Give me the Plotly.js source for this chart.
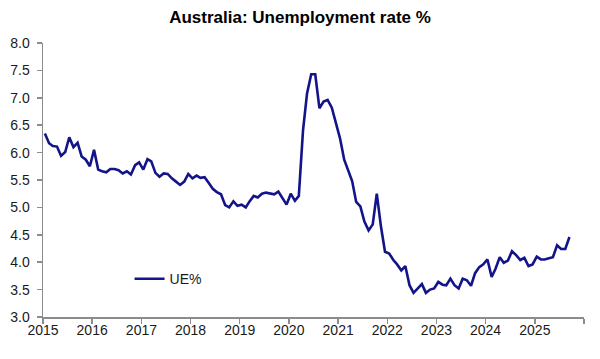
<!DOCTYPE html>
<html>
<head>
<meta charset="utf-8">
<script src="https://cdn.plot.ly/plotly-3.0.1.min.js"></script>
<style>
  html, body { margin: 0; padding: 0; background: #ffffff; }
  #chart { width: 600px; height: 359px; }
</style>
</head>
<body>
<div id="chart"></div>
<script>
// Monthly unemployment rate, Jan 2015 .. Sep 2025
var startYear = 2015;
var ue = [
  6.35, 6.17, 6.12, 6.11, 5.94, 6.01, 6.28, 6.10, 6.18, 5.93, 5.87, 5.75,
  6.05, 5.69, 5.66, 5.64, 5.70, 5.70, 5.68, 5.62, 5.66, 5.60, 5.77, 5.82,
  5.69, 5.88, 5.84, 5.63, 5.56, 5.62, 5.61, 5.53, 5.47, 5.41, 5.47, 5.61,
  5.53, 5.58, 5.54, 5.55, 5.45, 5.34, 5.28, 5.24, 5.04, 5.00, 5.11, 5.03,
  5.05, 5.00, 5.11, 5.21, 5.18, 5.25, 5.27, 5.25, 5.24, 5.29, 5.17, 5.05,
  5.25, 5.12, 5.21, 6.40, 7.08, 7.43, 7.43, 6.81, 6.93, 6.96, 6.82, 6.52,
  6.26, 5.87, 5.67, 5.48, 5.10, 5.02, 4.74, 4.58, 4.69, 5.25, 4.65, 4.19,
  4.16, 4.04, 3.96, 3.85, 3.93, 3.58, 3.44, 3.52, 3.60, 3.44, 3.50, 3.52,
  3.64, 3.59, 3.58, 3.70, 3.58, 3.52, 3.70, 3.67, 3.57, 3.80, 3.91, 3.96,
  4.05, 3.73, 3.88, 4.09, 3.99, 4.03, 4.20, 4.13, 4.04, 4.08, 3.93, 3.96,
  4.10, 4.05, 4.05, 4.07, 4.09, 4.31, 4.24, 4.24, 4.46
];
var yearTickVals = ['2015-01-01','2016-01-01','2017-01-01','2018-01-01','2019-01-01','2020-01-01',
                    '2021-01-01','2022-01-01','2023-01-01','2024-01-01','2025-01-01','2026-01-01'];
var yearTickText = ['2015','2016','2017','2018','2019','2020','2021','2022','2023','2024','2025',''];
var seriesName = 'UE%';
var chartTitle = 'Australia: Unemployment rate %';

// month dates (mid-month) for each observation
var dates = ue.map(function (v, i) {
  var y = startYear + Math.floor(i / 12);
  var m = (i % 12) + 1;
  return y + '-' + (m < 10 ? '0' + m : m) + '-15';
});

var trace = {
  x: dates,
  y: ue,
  type: 'scatter',
  mode: 'lines',
  name: seriesName,
  line: { color: '#14148a', width: 2.6 },
  hoverinfo: 'x+y'
};

var axisColor = '#8c8c8c';
var layout = {
  width: 600,
  height: 359,
  margin: { l: 43.3, r: 15.7, t: 43.3, b: 42.3 },
  paper_bgcolor: '#ffffff',
  plot_bgcolor: '#ffffff',
  font: { family: 'Liberation Sans, Arial, sans-serif', size: 14, color: '#1a1a1a' },
  title: {
    text: '<b>' + chartTitle + '</b>',
    x: 0.5, xanchor: 'center',
    y: 0.953, yanchor: 'middle',
    font: { family: 'Liberation Sans, Arial, sans-serif', size: 17, color: '#000000' }
  },
  xaxis: {
    type: 'date',
    range: ['2015-01-01', '2026-01-01'],
    tickmode: 'array',
    tickvals: yearTickVals,
    ticktext: yearTickText,
    showgrid: false,
    zeroline: false,
    showline: true,
    linecolor: axisColor,
    linewidth: 1.5,
    ticks: 'outside',
    ticklen: 5,
    tickwidth: 1.5,
    tickcolor: axisColor,
    ticklabelstandoff: -5,
    tickfont: { size: 14, color: '#1a1a1a' },
    fixedrange: true
  },
  yaxis: {
    range: [3, 8],
    dtick: 0.5,
    tick0: 3,
    tickformat: '.1f',
    showgrid: false,
    zeroline: false,
    showline: true,
    linecolor: axisColor,
    linewidth: 1.5,
    ticks: 'outside',
    ticklen: 5,
    tickwidth: 1.5,
    tickcolor: axisColor,
    ticklabelstandoff: 4,
    tickfont: { size: 14, color: '#1a1a1a' },
    fixedrange: true
  },
  showlegend: true,
  legend: {
    x: 0.16, xanchor: 'left',
    y: 0.138, yanchor: 'middle',
    bgcolor: 'rgba(0,0,0,0)',
    font: { size: 14, color: '#1a1a1a' }
  }
};

Plotly.newPlot('chart', [trace], layout, { displayModeBar: false, staticPlot: true });
</script>
</body>
</html>
